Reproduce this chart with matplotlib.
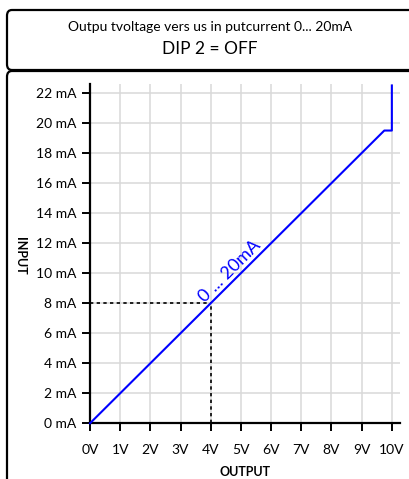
import matplotlib
matplotlib.use("Agg")
import matplotlib.pyplot as plt
from matplotlib.patches import FancyBboxPatch

plt.rcParams['font.family'] = ['Lato', 'DejaVu Sans']

# Data
volts = [0, 9.75, 10, 10]
current_ma = [0, 19.5, 19.5, 22.5]
x_ticks = list(range(0, 11))
x_labels = [f"{v}V" for v in x_ticks]
y_ticks = list(range(0, 23, 2))
y_labels = [f"{v} mA" for v in y_ticks]
ref_v, ref_ma = 4, 8
title1 = "Outpu tvoltage vers us in putcurrent 0... 20mA"
title2 = "DIP 2 = OFF"
line_label = "0 ... 20mA"

W, H = 410, 479
fig = plt.figure(figsize=(W / 100, H / 100), dpi=100)

def fx(px):
    return px / W

def fy(py):
    return 1 - py / H

# Boxes
box1 = FancyBboxPatch((fx(7), fy(70)), fx(430) - fx(7), fy(10) - fy(70),
                      boxstyle="round,pad=0,rounding_size=0.012",
                      transform=fig.transFigure, fill=False, ec='black', lw=1.6,
                      clip_on=False)
box2 = FancyBboxPatch((fx(7), fy(500)), fx(430) - fx(7), fy(71) - fy(500),
                      boxstyle="round,pad=0,rounding_size=0.012",
                      transform=fig.transFigure, fill=False, ec='black', lw=1.6,
                      clip_on=False)
fig.patches.extend([box1, box2])

fig.text(fx(210), fy(27), title1, ha='center', va='center', fontsize=10)
fig.text(fx(210), fy(49), title2, ha='center', va='center', fontsize=12.5)

ax = fig.add_axes([fx(90), fy(423.3), fx(400) - fx(90), fy(84) - fy(423.3)])
ax.set_xlim(0, 10.27)
ax.set_ylim(0, 22.6)

ax.grid(True, color='#d9d9d9', lw=1.1)
ax.set_axisbelow(True)

for s in ['top', 'right']:
    ax.spines[s].set_visible(False)
for s in ['left', 'bottom']:
    ax.spines[s].set_linewidth(1.6)
    ax.spines[s].set_zorder(3)

ax.set_xticks(x_ticks)
ax.set_xticklabels(x_labels, fontsize=10)
ax.set_yticks(y_ticks)
ax.set_yticklabels(y_labels, fontsize=10)
ax.tick_params(axis='both', direction='out', length=6, width=1.4)
ax.tick_params(axis='x', pad=9)
ax.tick_params(axis='y', pad=4)

ax.plot([0, ref_v], [ref_ma, ref_ma], color='black', ls=(0, (2, 2)), lw=1.2, zorder=4)
ax.plot([ref_v, ref_v], [0, ref_ma], color='black', ls=(0, (2, 2)), lw=1.2, zorder=4)

ax.plot(volts, current_ma, color='#0000ff', lw=1.5, zorder=5, clip_on=False)

ax.annotate(line_label, xy=(4.85, 9.7), xytext=(-4.6, 4.6), textcoords='offset points',
            rotation=45, rotation_mode='anchor', ha='center', va='center',
            fontsize=13, color='#0000ff')

ax.set_xlabel("OUTPUT", fontsize=9, fontweight='bold', labelpad=7)
fig.text(fx(20), fy(256), "INPUT", rotation=270, ha='center', va='center',
         fontsize=9, fontweight='bold')

fig.savefig("out.png", dpi=100)
